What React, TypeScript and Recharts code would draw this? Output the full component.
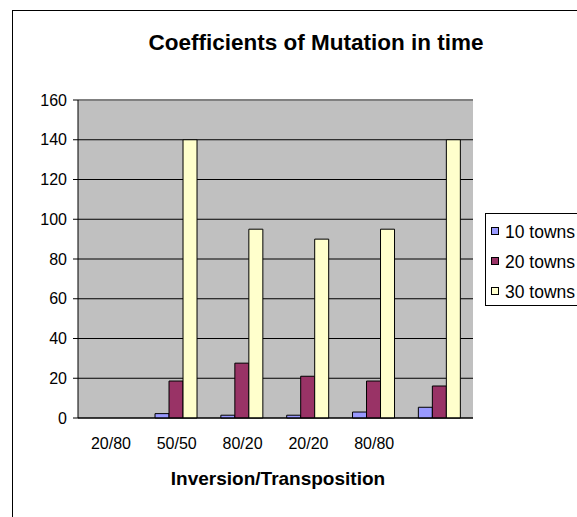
import React from "react";
import {
  BarChart,
  Bar,
  XAxis,
  YAxis,
  CartesianGrid,
  ReferenceLine,
} from "recharts";

const categories = ["20/80", "50/50", "80/20", "20/20", "80/80", ""];
const towns10 = [null, 2.2, 1.4, 1.4, 3.0, 5.4];
const towns20 = [null, 18.6, 27.6, 21, 18.6, 16.1];
const towns30 = [null, 140, 95, 90, 95, 140];
const yTicks = [0, 20, 40, 60, 80, 100, 120, 140, 160];
const boundaryTicks = [0, 1, 2, 3, 4, 5, 6];
const seriesNames = ["10 towns", "20 towns", "30 towns"];
const seriesColors = ["#9999FF", "#993366", "#FFFFCC"];
const titleText = "Coefficients of Mutation in time";
const xTitle = "Inversion/Transposition";

const data = categories.map((name, i) => ({
  name,
  t10: towns10[i],
  t20: towns20[i],
  t30: towns30[i],
}));
const seriesKeys = ["t10", "t20", "t30"];

const FONT = "Arial, 'Liberation Sans', sans-serif";

export default function App() {
  return (
    <div
      style={{
        position: "absolute",
        left: 0,
        top: 0,
        width: 577,
        height: 517,
        overflow: "hidden",
        background: "#fff",
      }}
    >
      <div
        style={{
          position: "absolute",
          left: 12,
          top: 10,
          width: 700,
          height: 700,
          border: "1px solid #000",
        }}
      />
      <div style={{ position: "absolute", left: 0, top: 0 }}>
        <BarChart
          width={577}
          height={517}
          data={data}
          margin={{ top: 100, right: 104, bottom: 69, left: 18 }}
          barCategoryGap="17%"
          barGap={0}
        >
          <CartesianGrid
            vertical={false}
            fill="#C0C0C0"
            stroke="#000"
            strokeOpacity={1}
          />
          <XAxis
            xAxisId="b"
            type="number"
            domain={[0, 6]}
            ticks={boundaryTicks}
            height={0}
            tickSize={5}
            axisLine={false}
            tickLine={{ stroke: "#000" }}
            tick={() => <g />}
          />
          <XAxis
            dataKey="name"
            height={30}
            tickSize={0}
            tickMargin={20}
            tickLine={false}
            axisLine={{ stroke: "#000" }}
            tick={{ fill: "#000", fontSize: 16, fontFamily: FONT }}
            interval={0}
          />
          <YAxis
            domain={[0, 160]}
            ticks={yTicks}
            width={60}
            tickSize={5}
            tickMargin={6}
            axisLine={{ stroke: "#000" }}
            tickLine={{ stroke: "#000" }}
            tick={{ fill: "#000", fontSize: 16, fontFamily: FONT }}
          />
          <YAxis
            yAxisId="r"
            orientation="right"
            width={0}
            domain={[0, 1]}
            tick={false}
            tickLine={false}
            axisLine={{ stroke: "#808080", strokeWidth: 2 }}
          />
          <ReferenceLine y={160} stroke="#808080" strokeWidth={2} />
          {seriesKeys.map((k, i) => (
            <Bar
              key={k}
              dataKey={k}
              name={seriesNames[i]}
              fill={seriesColors[i]}
              stroke="#000"
              strokeWidth={1}
              isAnimationActive={false}
            />
          ))}
        </BarChart>
      </div>
      <svg
        width={577}
        height={517}
        style={{ position: "absolute", left: 0, top: 0, pointerEvents: "none" }}
      >
        <text
          x={316}
          y={50}
          textAnchor="middle"
          fontFamily={FONT}
          fontWeight="bold"
          fontSize={22.5}
          fill="#000"
        >
          {titleText}
        </text>
        <text
          x={278}
          y={485}
          textAnchor="middle"
          fontFamily={FONT}
          fontWeight="bold"
          fontSize={19}
          fill="#000"
        >
          {xTitle}
        </text>
        <rect x={485.5} y={213.5} width={200} height={92} fill="#fff" stroke="#000" />
        {seriesNames.map((n, i) => (
          <g key={n}>
            <rect
              x={491.5}
              y={227.5 + i * 30}
              width={7}
              height={7}
              fill={seriesColors[i]}
              stroke="#000"
            />
            <text
              x={505}
              y={237.5 + i * 30}
              fontFamily={FONT}
              fontSize={17.5}
              fill="#000"
            >
              {n}
            </text>
          </g>
        ))}
      </svg>
    </div>
  );
}
